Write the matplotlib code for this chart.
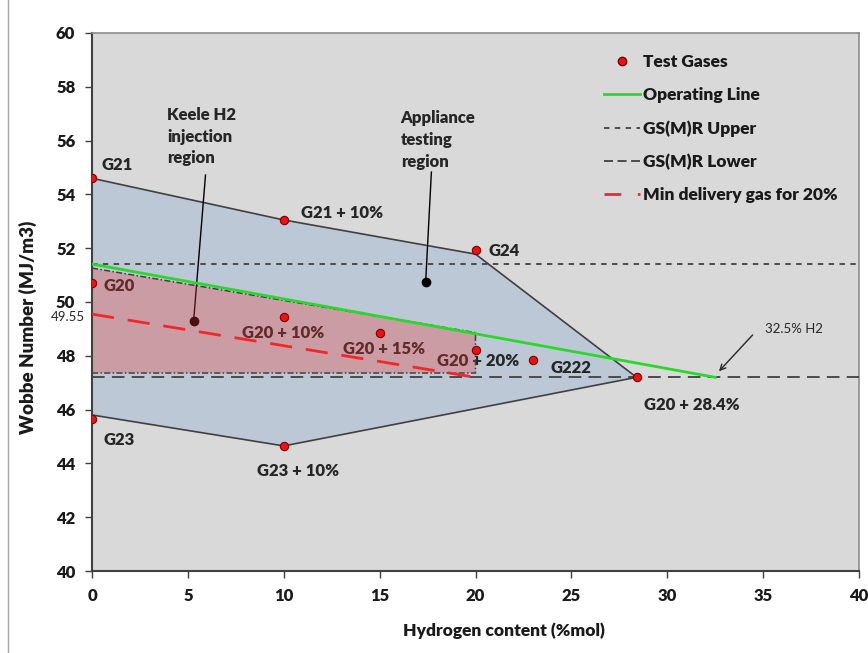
import matplotlib.pyplot as plt
from matplotlib.lines import Line2D

plt.rcParams['font.family'] = ['Lato', 'DejaVu Sans']

# test gases: hydrogen content (%mol) and Wobbe number (MJ/m3)
gas_names = ['G21', 'G21 + 10%', 'G24', 'G20', 'G20 + 10%', 'G20 + 15%',
             'G20 + 20%', 'G222', 'G20 + 28.4%', 'G23', 'G23 + 10%']
gas_h2 = [0, 10, 20, 0, 10, 15, 20, 23, 28.4, 0, 10]
gas_wobbe = [54.6, 53.05, 51.95, 50.7, 49.45, 48.85, 48.2, 47.85, 47.2, 45.65, 44.65]

# appliance testing region (outline)
app_h2 = [0, 10, 20, 28.4, 10, 0]
app_wobbe = [54.6, 53.05, 51.78, 47.2, 44.65, 45.8]

# Keele H2 injection region
keele_h2 = [0, 20, 20, 0]
keele_wobbe = [51.26, 48.86, 47.36, 47.36]

# operating line and limits
op_h2 = [0, 32.5]
op_wobbe = [51.41, 47.2]
gsmr_upper = 51.41
gsmr_lower = 47.2
min_h2 = [0, 20]
min_wobbe = [49.55, 47.2]

# where the point labels go (left edge, centre)
label_xy = {
    'G21': (0.5, 55.1), 'G21 + 10%': (10.9, 53.3), 'G24': (20.7, 51.88),
    'G20': (0.6, 50.6), 'G20 + 10%': (7.8, 48.85), 'G20 + 15%': (13.1, 48.25),
    'G20 + 20%': (18.0, 47.8), 'G222': (23.9, 47.55), 'G20 + 28.4%': (28.8, 46.17),
    'G23': (0.6, 44.87), 'G23 + 10%': (8.6, 43.72),
}

BOLD = 'heavy'

fig = plt.figure(figsize=(8.68, 6.53), dpi=100)
ax = fig.add_axes([92 / 868, 1 - 571 / 653, 767 / 868, 538 / 653])
ax.set_facecolor('#D9D9D9')

# page border line on the left
fig.add_artist(Line2D([8 / 868, 8 / 868], [0, 1], color='#A6A6A6', lw=1))

ax.fill(app_h2, app_wobbe, facecolor='#BDC8D6', edgecolor='#404040', lw=1.2, zorder=1)

for name, x, y in zip(gas_names, gas_h2, gas_wobbe):
    tx, ty = label_xy[name]
    ax.text(tx, ty, name, fontsize=12, fontweight=BOLD, color='#262626',
            ha='left', va='center', zorder=2)

# pink overlay drawn over the labels, like the original
ax.fill(keele_h2, keele_wobbe, facecolor='#EF3936', alpha=0.3, edgecolor='none', zorder=2.5)
ax.plot(keele_h2 + [keele_h2[0]], keele_wobbe + [keele_wobbe[0]], color='#404040',
        lw=1.1, dashes=(4, 1.5, 1, 1.5), zorder=2.6)

ax.axhline(gsmr_upper, color='#404040', lw=1.3, dashes=(3, 3), zorder=3)
ax.axhline(gsmr_lower, color='#404040', lw=1.3, dashes=(7, 4), zorder=3)
ax.plot(op_h2, op_wobbe, color='#2AD82A', lw=2, zorder=3.2)
ax.plot(min_h2, min_wobbe, color='#F02828', lw=2, dashes=(8, 5), zorder=3.2)

ax.plot(gas_h2, gas_wobbe, 'o', color='#EE1111', mec='#7A0000', mew=0.8, ms=6, zorder=4)

# region call-outs
ax.text(3.93, 57.26, 'Keele H2\ninjection\nregion', fontsize=12, fontweight=BOLD,
        color='#262626', ha='left', va='top', linespacing=1.45)
ax.plot([5.92, 5.3], [54.72, 49.3], color='black', lw=1)
ax.plot(5.3, 49.3, 'o', color='black', ms=6)
ax.text(16.1, 57.13, 'Appliance\ntesting\nregion', fontsize=12, fontweight=BOLD,
        color='#262626', ha='left', va='top', linespacing=1.45)
ax.plot([17.7, 17.4], [54.83, 50.74], color='black', lw=1)
ax.plot(17.4, 50.74, 'o', color='black', ms=6)

ax.annotate('', xy=(32.6, 47.35), xytext=(34.55, 48.85),
            arrowprops=dict(arrowstyle='->', color='#262626', lw=1))
ax.text(35.1, 49.0, '32.5% H2', fontsize=9.5, color='#262626', ha='left', va='center')
ax.text(-0.35, 49.45, '49.55', fontsize=9.5, color='#262626', ha='right', va='center',
        clip_on=False)

ax.set_xlim(0, 40)
ax.set_ylim(40, 60)
ax.set_xticks(range(0, 41, 5))
ax.set_yticks(range(40, 61, 2))
ax.tick_params(direction='out', length=5, width=1, color='#404040', labelsize=12,
               labelcolor='#1A1A1A', pad=7)
for lab in ax.get_xticklabels() + ax.get_yticklabels():
    lab.set_fontweight(BOLD)
for side in ['left', 'bottom']:
    ax.spines[side].set_color('#404040')
    ax.spines[side].set_linewidth(1.5)
for side in ['top', 'right']:
    ax.spines[side].set_color('#8C8C8C')
    ax.spines[side].set_linewidth(1.2)

ax.set_xlabel('Hydrogen content (%mol)', fontsize=12.5, fontweight=BOLD, color='#1A1A1A')
ax.set_ylabel('Wobbe Number (MJ/m3)', fontsize=13.5, fontweight=BOLD, color='#1A1A1A')
ax.xaxis.set_label_coords(0.537, -0.095)
ax.yaxis.set_label_coords(-0.072, 0.452)

handles = [
    Line2D([], [], ls='none', marker='o', color='#EE1111', mec='#7A0000', ms=6),
    Line2D([], [], color='#2AD82A', lw=2),
    Line2D([], [], color='#404040', lw=1.3, dashes=(3, 3)),
    Line2D([], [], color='#404040', lw=1.3, dashes=(5, 2.5)),
    Line2D([], [], color='#F02828', lw=2, dashes=(6, 6)),
]
labels = ['Test Gases', 'Operating Line', 'GS(M)R Upper', 'GS(M)R Lower',
          'Min delivery gas for 20%']
leg = ax.legend(handles, labels, loc='upper left', bbox_to_anchor=(0.647, 0.99),
                frameon=False, labelspacing=0.98, handlelength=2.1, handletextpad=0.15,
                prop={'weight': BOLD, 'size': 12.5})
for t in leg.get_texts():
    t.set_color('#1A1A1A')

fig.savefig('out.png', dpi=100, facecolor='white')
